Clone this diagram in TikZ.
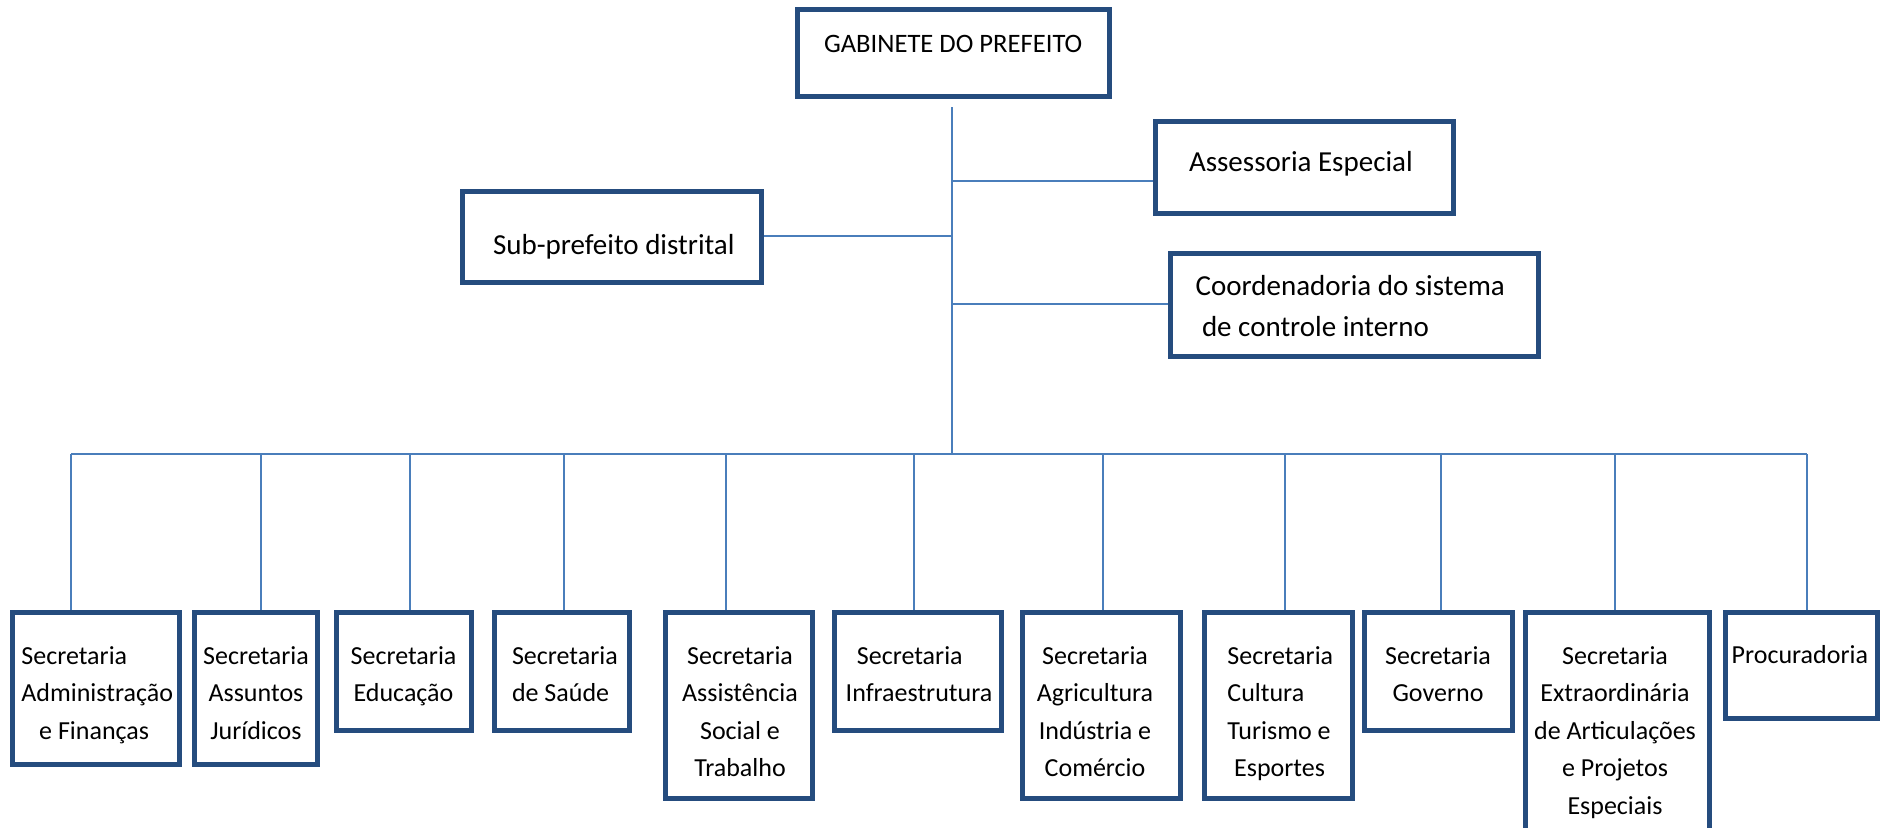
\documentclass[tikz,border=0pt]{standalone}
\usepackage{fontspec}
\setmainfont{Carlito}
\definecolor{boxblue}{RGB}{37,76,126}
\definecolor{linkblue}{RGB}{74,126,187}
\begin{document}
\begin{tikzpicture}[x=0.5pt,y=-0.5pt,
  pbox/.style n args={4}{draw=boxblue, line width=2.5pt, fill=white, rectangle,
    inner sep=0pt, outer sep=1.25pt,
    minimum width={(#3-#1-5)*0.5pt}, minimum height={(#4-#2-5)*0.5pt}},
  link/.style={draw=linkblue, line width=1pt},
  lbl/.style={inner sep=0pt, outer sep=0pt, text=black},
  small/.style={font=\fontsize{13}{18.75}\selectfont},
  mid/.style={font=\fontsize{13.3}{18.75}\selectfont},
  big/.style={font=\fontsize{14.5}{20.5}\selectfont},
  lft/.style={align=left, anchor=base west},
  ctr/.style={align=center, anchor=base}]
\useasboundingbox (0,0) rectangle (1880,827);
\clip (0,0) rectangle (1880,827);

% ---------- top boxes ----------
\node[pbox={795}{7}{1112}{99}]        (gab) at ({(795+1112)/2},{(7+99)/2}) {};
\node[pbox={460}{189}{764}{285}]      (sub) at ({(460+764)/2},{(189+285)/2}) {};
\node[pbox={1153}{119}{1456}{216}]    (ass) at ({(1153+1456)/2},{(119+216)/2}) {};
\node[pbox={1167.5}{251}{1540.6}{359}] (coo) at ({(1167.5+1540.6)/2},{(251+359)/2}) {};

% ---------- bottom boxes ----------
\node[pbox={10.4}{610}{182}{767}]     (b1)  at ({(10.4+182)/2},{(610+767)/2}) {};
\node[pbox={192}{610}{320}{767}]      (b2)  at ({(192+320)/2},{(610+767)/2}) {};
\node[pbox={334}{610}{474}{733}]      (b3)  at ({(334+474)/2},{(610+733)/2}) {};
\node[pbox={492}{610}{632}{733}]      (b4)  at ({(492+632)/2},{(610+733)/2}) {};
\node[pbox={662.6}{610}{814.5}{801}]  (b5)  at ({(662.6+814.5)/2},{(610+801)/2}) {};
\node[pbox={832}{610}{1004}{733}]     (b6)  at ({(832+1004)/2},{(610+733)/2}) {};
\node[pbox={1020}{610}{1183}{801}]    (b7)  at ({(1020+1183)/2},{(610+801)/2}) {};
\node[pbox={1202}{610}{1355}{801}]    (b8)  at ({(1202+1355)/2},{(610+801)/2}) {};
\node[pbox={1362}{610}{1514.6}{733}]  (b9)  at ({(1362+1514.6)/2},{(610+733)/2}) {};
\node[pbox={1523}{610}{1712}{870}]    (b10) at ({(1523+1712)/2},{(610+870)/2}) {};
\node[pbox={1723}{610}{1880}{720.7}]  (b11) at ({(1723+1880)/2},{(610+720.7)/2}) {};

% ---------- labels (anchored at the baseline of the last line) ----------
\node[lbl, mid, lft] (tgab) at (824,52.7) {GABINETE DO PREFEITO};
\node[lbl, big, lft] (tsub) at (493,254) {Sub-prefeito distrital};
\node[lbl, big, lft] (tass) at (1189,171.7) {Assessoria Especial};
\node[lbl, big, lft] (tcoo) at (1195.6,336) {Coordenadoria do sistema\\\hspace*{3.2pt}de controle interno};

\node[lbl, small, lft] (t1) at (21.4,739) {Secretaria\\Administração\\\hspace*{8.9pt}e Finanças};
\node[lbl, small, ctr] (t2) at (256,739) {Secretaria\\Assuntos\\Jurídicos};
\node[lbl, small, ctr] (t3) at (403.5,701.5) {Secretaria\\Educação};
\node[lbl, small, lft] (t4) at (512,701.5) {Secretaria\\de Saúde};
\node[lbl, small, ctr] (t5) at (740,776.5) {Secretaria\\Assistência\\Social e\\Trabalho};
\node[lbl, small, lft] (t6) at (845.7,701.5) {\hspace*{5.6pt}Secretaria\\Infraestrutura};
\node[lbl, small, ctr] (t7) at (1095,776.5) {Secretaria\\Agricultura\\Indústria e\\Comércio};
\node[lbl, small, lft] (t8) at (1227.4,776.5) {Secretaria\\Cultura\\Turismo e\\\hspace*{3.4pt}Esportes};
\node[lbl, small, ctr] (t9) at (1438,701.5) {Secretaria\\Governo};
\node[lbl, small, ctr] (t10) at (1615,814) {Secretaria\\Extraordinária\\de Articulações\\e Projetos\\Especiais};
\node[lbl, small, lft] (t11) at (1731.7,663) {Procuradoria};

% ---------- connectors ----------
\coordinate (trunkBot) at (952,454);
\coordinate (jA) at (952,181);
\coordinate (jS) at (952,236);
\coordinate (jC) at (952,304);
\draw[link] ([yshift=-4pt]gab.south -| trunkBot) -- (trunkBot);
\draw[link] (jA) -- (jA -| ass.west);
\draw[link] (jS) -- (jS -| sub.east);
\draw[link] (jC) -- (jC -| coo.west);

\coordinate (d1)  at (71,454);
\coordinate (d2)  at (261,454);
\coordinate (d3)  at (409.7,454);
\coordinate (d4)  at (564,454);
\coordinate (d5)  at (726,454);
\coordinate (d6)  at (914,454);
\coordinate (d7)  at (1102.5,454);
\coordinate (d8)  at (1285,454);
\coordinate (d9)  at (1440.5,454);
\coordinate (d10) at (1615,454);
\coordinate (d11) at (1806.7,454);
\draw[link] (d1) -- (d11);
\foreach \i in {1,...,11}{
  \draw[link] (d\i) -- (d\i |- b\i.north);
}
\end{tikzpicture}
\end{document}
